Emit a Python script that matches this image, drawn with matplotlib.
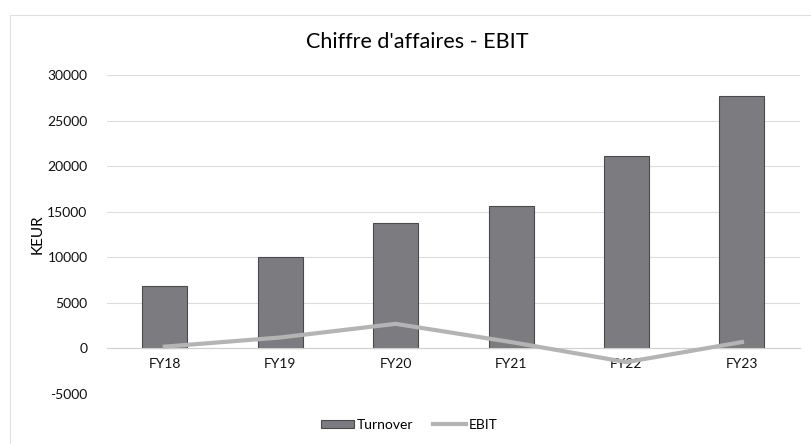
import matplotlib.pyplot as plt
from matplotlib.patches import Rectangle

plt.rcParams['font.family'] = ['Lato', 'DejaVu Sans']
plt.rcParams['axes.unicode_minus'] = False

years = ['FY18', 'FY19', 'FY20', 'FY21', 'FY22', 'FY23']
turnover = [6800, 10000, 13800, 15650, 21100, 27700]
ebit = [200, 1200, 2700, 700, -1500, 700]

fig = plt.figure(figsize=(8.11, 4.44), dpi=100)
ax = fig.add_axes([0.132, 0.1126, 0.854, 0.7184])

x = range(len(years))
bars = ax.bar(x, turnover, width=0.39, color='#7b7b80', edgecolor='#4a4a4e', linewidth=0.8,
              label='Turnover', zorder=2)
line, = ax.plot(x, ebit, color='#b4b4b4', linewidth=3, label='EBIT', zorder=3)

ax.set_xlim(-0.5, 5.5)
ax.set_ylim(-5000, 30000)
ax.set_yticks(range(-5000, 30001, 5000))
ax.set_xticks(list(x))
ax.set_xticklabels(years)
ax.tick_params(length=0, labelsize=10, colors='#111111')
ax.tick_params(axis='y', pad=14)
ax.tick_params(axis='x', pad=7)
ax.grid(axis='y', color='#dcdcdc', linewidth=0.8, zorder=0)
for s in ['top', 'right', 'left']:
    ax.spines[s].set_visible(False)
ax.spines['bottom'].set_position(('data', 0))
ax.spines['bottom'].set_color('#d0d0d0')
ax.set_ylabel('KEUR', fontsize=11, labelpad=2)

fig.text(0.515, 0.905, "Chiffre d'affaires - EBIT", ha='center', va='center', fontsize=15.5)

ax.legend([bars, line], ['Turnover', 'EBIT'], loc='center',
          bbox_to_anchor=(0.505, 0.043), bbox_transform=fig.transFigure,
          ncol=2, frameon=False, fontsize=10, handlelength=2.4, handleheight=0.5,
          columnspacing=1.4, handletextpad=0.2)

fig.patches.append(Rectangle((0.012, -0.05), 1.2, 1.016, transform=fig.transFigure,
                             fill=False, edgecolor='#e0e0e0', linewidth=0.8))

fig.savefig('out.png', dpi=100)
